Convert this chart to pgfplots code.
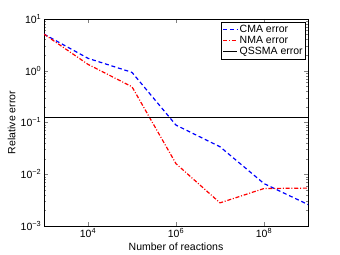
\documentclass[border=0pt]{standalone}
\usepackage{pgfplots}
\pgfplotsset{compat=1.18}
\usepackage{fontspec}
\setmainfont{Liberation Sans}
\begin{document}
\fontsize{10.5bp}{12bp}\selectfont
\begin{tikzpicture}
\path (0bp,0bp) rectangle (340bp,255bp);
\begin{axis}[
  at={(44bp,29bp)}, anchor=south west,
  scale only axis, width=264bp, height=207bp,
  xmode=log, ymode=log,
  xmin=1e3, xmax=1e9, ymin=1e-3, ymax=10,
  xtick={1e4,1e6,1e8},
  xticklabels={10\textsuperscript{4},10\textsuperscript{6},10\textsuperscript{8}},
  ytick={1e-3,1e-2,1e-1,1,10},
  yticklabels={10\textsuperscript{−3},10\textsuperscript{−2},10\textsuperscript{−1},10\textsuperscript{0},10\textsuperscript{1}},
  xminorticks=false,
  tick align=inside,
  major tick length=4bp, minor tick length=2bp,
  axis line style={line width=0.5pt},
  xticklabel style={yshift=1bp},
  yticklabel style={xshift=1bp},
  xlabel={Number of reactions},
  ylabel={Relative error},
  xlabel style={yshift=2bp},
  ylabel style={yshift=-2bp},
  legend cell align=left,
  legend style={at={(rel axis cs:0.992,0.985)}, anchor=north east,
    inner sep=1pt, row sep=-2pt},
]
\addplot[blue, line width=1.2pt, dash pattern=on 4bp off 2.8bp,
  legend image code/.code={\color{blue}\draw[blue, line width=1.2pt, dash pattern=on 4bp off 2.8bp] (0bp,0bp) -- (14bp,0bp);}] coordinates {
(1e3,5.1) (1e4,1.74) (1e5,0.93) (1e6,0.089) (1e7,0.034) (1e8,0.0066) (1e9,0.0026)};
\addlegendentry{CMA error}
\addplot[red, line width=1.2pt, dash pattern=on 4bp off 1.8bp on 1bp off 1.8bp,
  legend image code/.code={\color{red}\draw[red, line width=1.2pt, dash pattern=on 4bp off 1.8bp on 1bp off 1.8bp] (0bp,0bp) -- (14bp,0bp);}] coordinates {
(1e3,5.1) (1e4,1.33) (1e5,0.49) (1e6,0.016) (1e7,0.0028) (1e8,0.0053) (1e9,0.0054)};
\addlegendentry{NMA error}
\addplot[black, line width=1.3pt,
  legend image code/.code={\draw[black, line width=1.3pt] (0bp,0bp) -- (14bp,0bp);}] coordinates {(1e3,0.126) (1e9,0.126)};
\addlegendentry{QSSMA error}
\end{axis}
\end{tikzpicture}
\end{document}
